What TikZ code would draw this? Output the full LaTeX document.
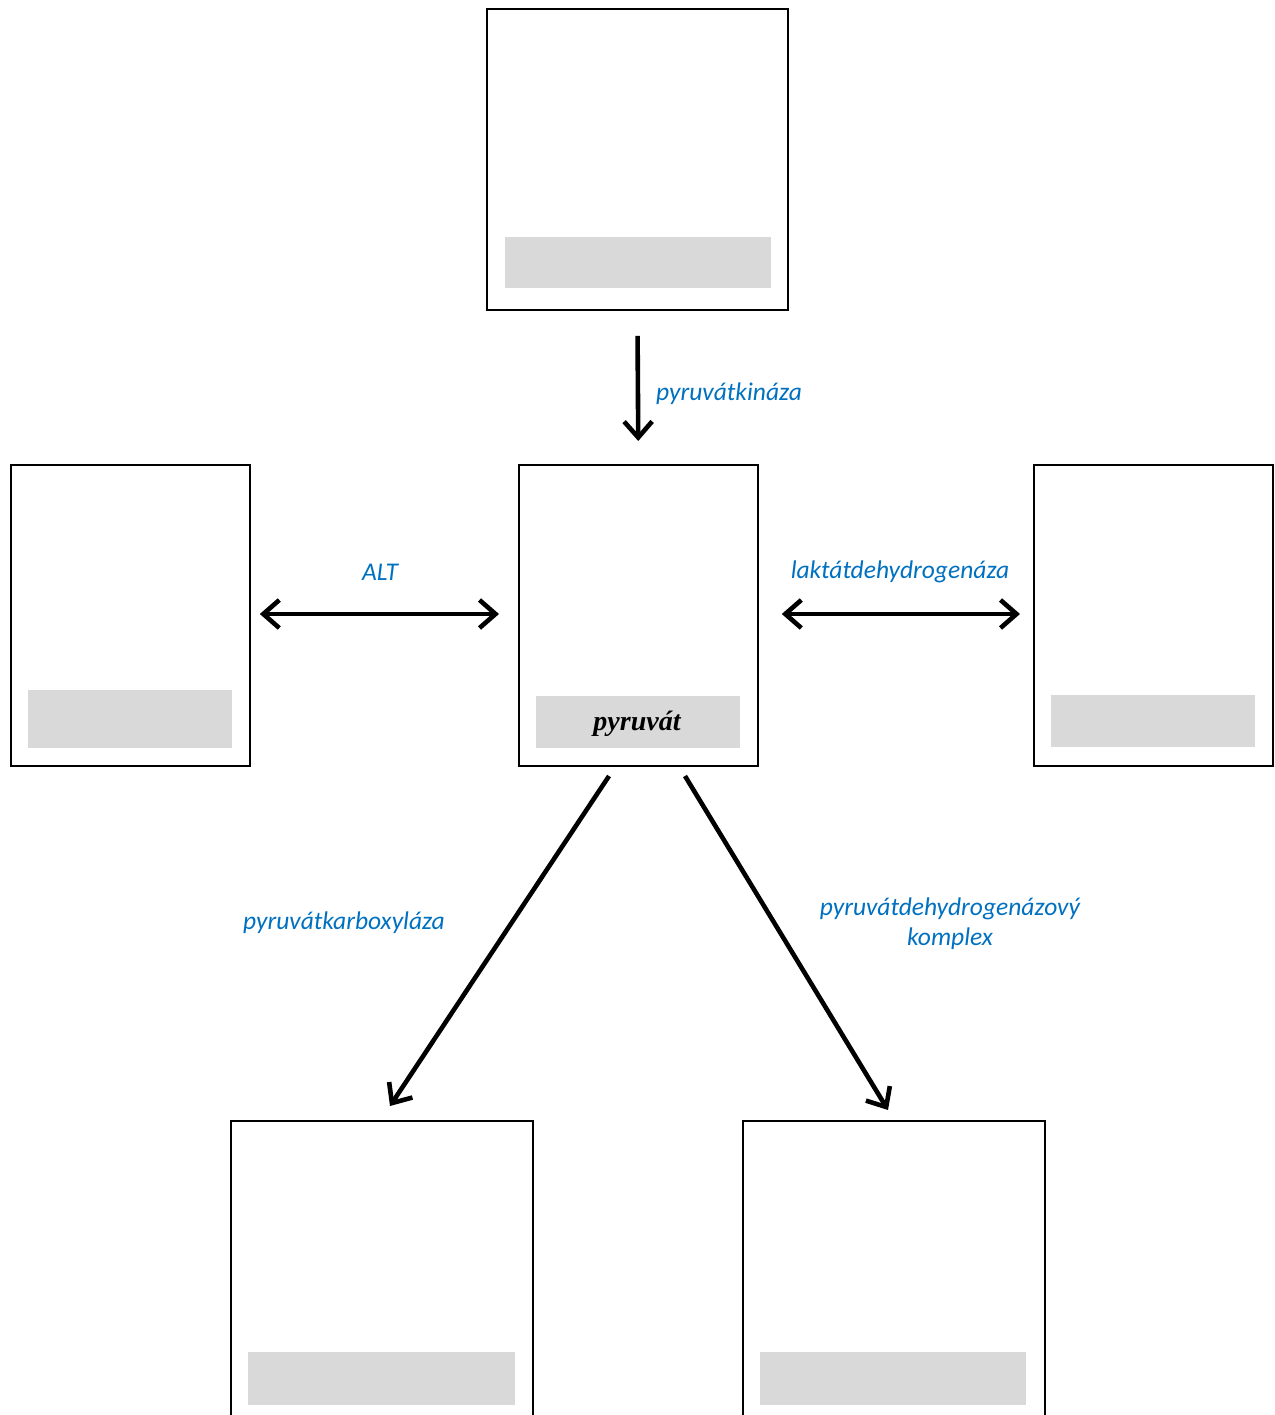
\documentclass[tikz,border=0pt]{standalone}
\usepackage{fontspec}
\setmainfont{Liberation Serif}
\newfontfamily\labelfont{Carlito}
\usetikzlibrary{arrows.meta,positioning}
\definecolor{enzblue}{HTML}{0070C0}
\definecolor{bargrey}{HTML}{D9D9D9}
\tikzset{
  boxnode/.style={draw=black, line width=1.8pt, fill=white, inner sep=0pt, anchor=north west},
  barnode/.style={fill=bargrey, draw=none, inner sep=0pt, anchor=north west},
  enz/.style={text=enzblue, font=\labelfont\itshape\fontsize{25.5}{30}\selectfont, inner sep=0pt, align=center},
  conn/.style={line width=4.6pt, -{Straight Barb[length=16pt,width=28pt,line width=4.6pt]}},
  bconn/.style={line width=4.6pt, {Straight Barb[length=16pt,width=28pt,line width=4.6pt]}-{Straight Barb[length=16pt,width=28pt,line width=4.6pt]}}
}
\begin{document}
\begin{tikzpicture}[x=1pt,y=-1pt]
\useasboundingbox (0,0) rectangle (1274,1415);
\clip (0,0) rectangle (1274,1415);
% boxes
\node[boxnode, minimum width=301pt, minimum height=301pt] (top) at (486,8) {};
\node[boxnode, minimum width=239pt, minimum height=301pt] (left) at (10,464) {};
\node[boxnode, minimum width=239pt, minimum height=301pt] (pyr) at (518,464) {};
\node[boxnode, minimum width=239pt, minimum height=301pt] (right) at (1033,464) {};
\node[boxnode, minimum width=302pt, minimum height=320pt] (bl) at (230,1120) {};
\node[boxnode, minimum width=302pt, minimum height=320pt] (br) at (742,1120) {};
% grey bars
\node[barnode, minimum width=266pt, minimum height=51pt] (topbar) at (505,237) {};
\node[barnode, minimum width=204pt, minimum height=58pt] (leftbar) at (28,690) {};
\node[barnode, minimum width=204pt, minimum height=52pt] (pyrbar) at (536,696) {};
\node[font=\bfseries\itshape\fontsize{28}{30}\selectfont, inner sep=0pt] (pyrtext) at (637,724) {pyruvát};
\node[barnode, minimum width=204pt, minimum height=52pt] (rightbar) at (1051,695) {};
\node[barnode, minimum width=267pt, minimum height=53pt] (blbar) at (248,1352) {};
\node[barnode, minimum width=266pt, minimum height=53pt] (brbar) at (760,1352) {};
% connectors
\draw[conn, shorten <=25pt, shorten >=23pt] (top.south) -- (pyr.north);
\draw[bconn, shorten <=9pt, shorten >=19pt] (left.east |- 0,614) -- (pyr.west |- 0,614);
\draw[bconn, shorten <=23pt, shorten >=13pt] (pyr.east |- 0,614) -- (right.west |- 0,614);
\coordinate (dl1) at (609,776);
\coordinate (dl2) at (390,1106);
\coordinate (dr1) at (685,776);
\coordinate (dr2) at (888,1110);
\draw[conn] (dl1) -- (dl2);
\draw[conn] (dr1) -- (dr2);
% labels
\node[enz, anchor=west] (l1) at (656,394) {pyruvátkináza};
\node[enz] (l2) at (380,572) {ALT};
\node[enz] (l3) at (900,572) {laktátdehydrogenáza};
\node[enz] (l4) at (344,923) {pyruvátkarboxyláza};
\node[enz] (l5) at (950,924) {pyruvátdehydrogenázový\\komplex};
\end{tikzpicture}
\end{document}
